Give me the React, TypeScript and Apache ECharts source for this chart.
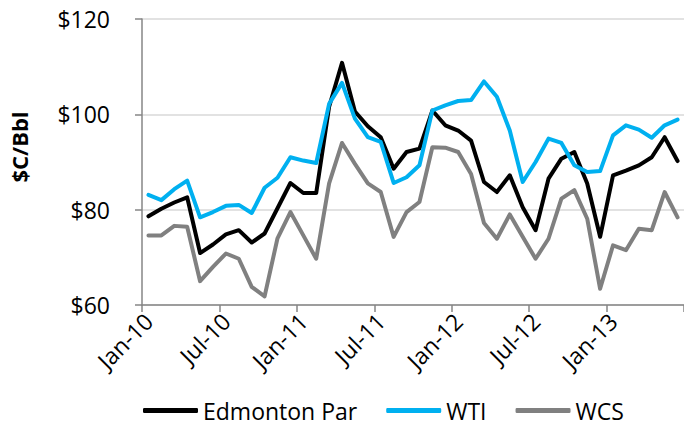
import React, { useEffect, useRef } from "react";
import * as echarts from "echarts";

const MONTHS = ["Jan", "Feb", "Mar", "Apr", "May", "Jun", "Jul", "Aug", "Sep", "Oct", "Nov", "Dec"];
const YEARS = ["10", "11", "12", "13"];
const MONTH_COUNT = 42; // Jan-10 .. Jun-13

const categories: string[] = [];
for (let i = 0; i < MONTH_COUNT; i++) {
  categories.push(MONTHS[i % 12] + "-" + YEARS[Math.floor(i / 12)]);
}

const edmontonPar = [
  78.6, 80.2, 81.5, 82.6, 70.9, 72.7, 74.8, 75.7, 73.1, 75.0,
  80.3, 85.6, 83.5, 83.5, 101.6, 110.8, 100.6, 97.5, 95.2, 88.6,
  92.1, 92.8, 100.8, 97.7, 96.6, 94.5, 85.8, 83.7, 87.2, 80.5,
  75.7, 86.5, 90.7, 92.1, 85.5, 74.3, 87.2, 88.2, 89.3, 91.0, 95.2, 90.2,
];
const wti = [
  83.1, 82.0, 84.3, 86.1, 78.4, 79.5, 80.8, 81.0, 79.3, 84.6,
  86.7, 91.0, 90.3, 89.8, 102.2, 106.6, 99.1, 95.2, 94.2, 85.6,
  86.8, 89.3, 100.8, 101.9, 102.8, 103.0, 106.9, 103.7, 96.6, 85.8,
  90.0, 94.9, 94.0, 89.3, 87.9, 88.1, 95.6, 97.7, 96.8, 95.1, 97.7, 98.9,
];
const wcs = [
  74.6, 74.6, 76.6, 76.4, 65.0, 68.0, 70.8, 69.7, 63.8, 61.8,
  74.0, 79.5, 74.6, 69.7, 85.5, 94.0, 89.6, 85.5, 83.7, 74.3,
  79.5, 81.6, 93.1, 93.0, 92.1, 87.5, 77.2, 73.9, 79.0, 74.3,
  69.7, 73.9, 82.3, 84.1, 78.1, 63.4, 72.5, 71.5, 76.0, 75.7, 83.7, 78.4,
];

const FONT = '"Open Sans", "Noto Sans", sans-serif';

export default function App() {
  const ref = useRef<HTMLDivElement>(null);
  useEffect(() => {
    if (!ref.current) return;
    const chart = echarts.init(ref.current, null, { renderer: "svg" });
    const mk = (name: string, data: number[], color: string) => ({
      name,
      type: "line",
      data,
      symbol: "none",
      showSymbol: false,
      lineStyle: { color, width: 4, join: "round", cap: "round" },
      itemStyle: { color },
    });
    chart.setOption({
      animation: false,
      textStyle: { fontFamily: FONT },
      grid: { left: 142, top: 19, width: 545, height: 286 },
      xAxis: {
        type: "category",
        data: categories,
        boundaryGap: true,
        axisLine: { show: true, lineStyle: { color: "#868686", width: 1.5 } },
        axisTick: { show: true, interval: 5, length: 7, lineStyle: { color: "#868686", width: 1.5 } },
        axisLabel: {
          interval: 5,
          rotate: 45,
          margin: 12,
          fontSize: 23,
          color: "#000",
          fontFamily: FONT,
        },
        splitLine: { show: false },
      },
      yAxis: {
        type: "value",
        min: 60,
        max: 120,
        interval: 20,
        axisLine: { show: true, lineStyle: { color: "#868686", width: 1.5 } },
        axisTick: { show: true, length: 7, lineStyle: { color: "#868686", width: 1.5 } },
        axisLabel: {
          formatter: (v: number) => "$" + v,
          margin: 32,
          fontSize: 23,
          color: "#000",
          fontFamily: FONT,
        },
        splitLine: { show: true, lineStyle: { color: "#d9d9d9", width: 1.5 } },
      },
      legend: {
        left: 143,
        top: 399,
        padding: 0,
        itemWidth: 55,
        itemHeight: 5,
        itemGap: 29,
        icon: "roundRect",
        textStyle: { fontSize: 23, lineHeight: 23, color: "#000", fontFamily: FONT },
        data: ["Edmonton Par", "WTI", "WCS"],
      },
      graphic: [
        {
          type: "text",
          x: 19,
          y: 147,
          rotation: Math.PI / 2,
          style: {
            text: "$C/Bbl",
            fontSize: 22,
            fontWeight: "bold",
            fontFamily: FONT,
            fill: "#000",
            align: "center",
            verticalAlign: "middle",
          },
        },
      ],
      series: [
        mk("Edmonton Par", edmontonPar, "#000000"),
        mk("WTI", wti, "#00b0f0"),
        mk("WCS", wcs, "#808080"),
      ],
    });
    return () => chart.dispose();
  }, []);
  return <div ref={ref} style={{ width: 684, height: 428, position: "absolute", left: 0, top: 0 }} />;
}
